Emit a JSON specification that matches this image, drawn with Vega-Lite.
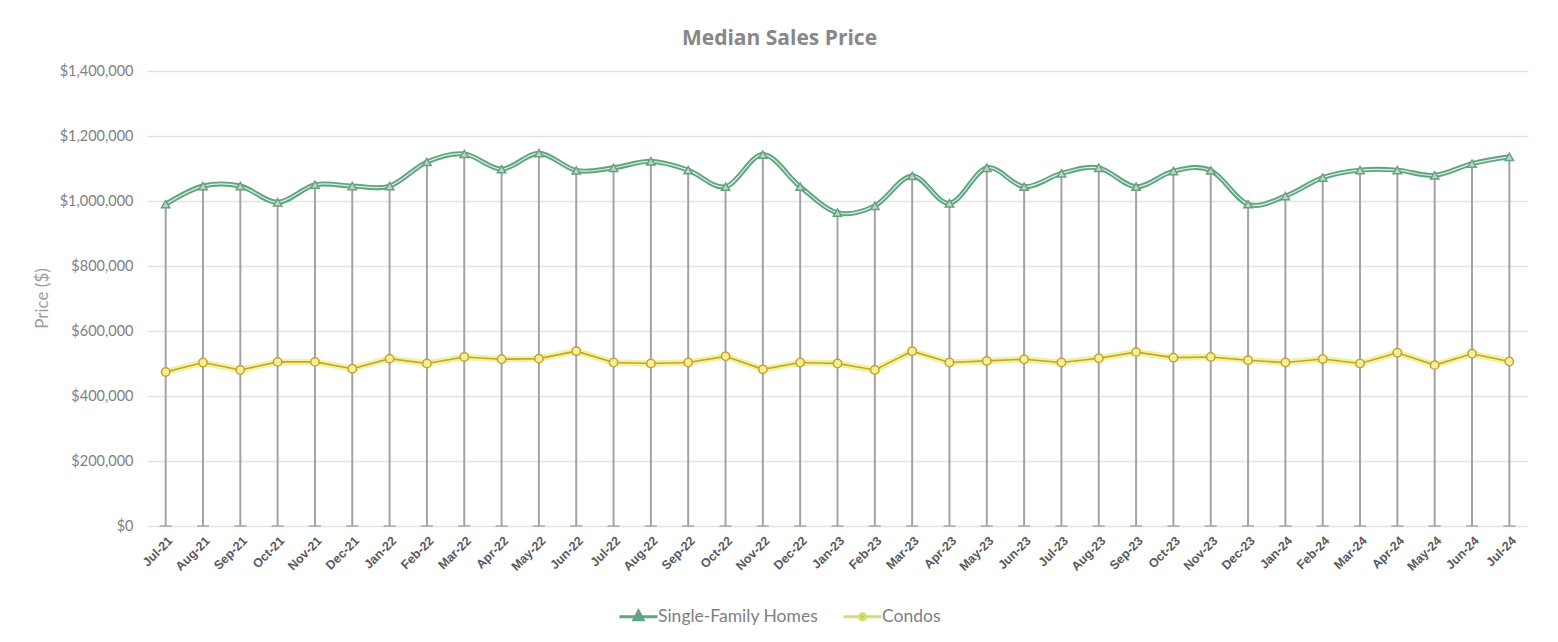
{
  "$schema": "https://vega.github.io/schema/vega-lite/v6.json",
  "width": 1381,
  "height": 455,
  "autosize": {"type": "none"},
  "padding": {"left": 147, "top": 71, "right": 30, "bottom": 116},
  "background": "white",
  "title": {
    "text": "Median Sales Price",
    "font": "Open Sans",
    "fontSize": 21,
    "fontWeight": "bold",
    "color": "#878787",
    "anchor": "middle",
    "dx": -58,
    "offset": 14
  },
  "config": {
    "view": {"stroke": null},
    "axis": {"domain": false, "ticks": false},
    "legend": {
      "title": null,
      "orient": "none",
      "direction": "horizontal",
      "legendX": 480,
      "legendY": 534,
      "symbolSize": 400,
      "symbolStrokeWidth": 3,
      "symbolOpacity": 1,
      "labelFont": "Lato",
      "labelFontSize": 17.5,
      "labelColor": "#7f7f7f",
      "labelOffset": 8,
      "labelLimit": 400,
      "columnPadding": 18
    }
  },
  "resolve": {"scale": {"shape": "independent", "fill": "independent", "stroke": "independent"}},
  "data": {
    "values": [
      {"month": "Jul-21", "Single-Family Homes": 990000, "Condos": 474000},
      {"month": "Aug-21", "Single-Family Homes": 1046000, "Condos": 503000},
      {"month": "Sep-21", "Single-Family Homes": 1046000, "Condos": 480000},
      {"month": "Oct-21", "Single-Family Homes": 996000, "Condos": 505000},
      {"month": "Nov-21", "Single-Family Homes": 1050000, "Condos": 505000},
      {"month": "Dec-21", "Single-Family Homes": 1046000, "Condos": 484000},
      {"month": "Jan-22", "Single-Family Homes": 1046000, "Condos": 515000},
      {"month": "Feb-22", "Single-Family Homes": 1120000, "Condos": 500000},
      {"month": "Mar-22", "Single-Family Homes": 1145000, "Condos": 520000},
      {"month": "Apr-22", "Single-Family Homes": 1098000, "Condos": 513000},
      {"month": "May-22", "Single-Family Homes": 1147000, "Condos": 515000},
      {"month": "Jun-22", "Single-Family Homes": 1094000, "Condos": 538000},
      {"month": "Jul-22", "Single-Family Homes": 1102000, "Condos": 503000},
      {"month": "Aug-22", "Single-Family Homes": 1122000, "Condos": 500000},
      {"month": "Sep-22", "Single-Family Homes": 1095000, "Condos": 503000},
      {"month": "Oct-22", "Single-Family Homes": 1044000, "Condos": 522000},
      {"month": "Nov-22", "Single-Family Homes": 1143000, "Condos": 482000},
      {"month": "Dec-22", "Single-Family Homes": 1044000, "Condos": 503000},
      {"month": "Jan-23", "Single-Family Homes": 964000, "Condos": 500000},
      {"month": "Feb-23", "Single-Family Homes": 985000, "Condos": 480000},
      {"month": "Mar-23", "Single-Family Homes": 1077000, "Condos": 538000},
      {"month": "Apr-23", "Single-Family Homes": 993000, "Condos": 503000},
      {"month": "May-23", "Single-Family Homes": 1102000, "Condos": 508000},
      {"month": "Jun-23", "Single-Family Homes": 1044000, "Condos": 513000},
      {"month": "Jul-23", "Single-Family Homes": 1085000, "Condos": 503000},
      {"month": "Aug-23", "Single-Family Homes": 1102000, "Condos": 516000},
      {"month": "Sep-23", "Single-Family Homes": 1044000, "Condos": 535000},
      {"month": "Oct-23", "Single-Family Homes": 1092000, "Condos": 518000},
      {"month": "Nov-23", "Single-Family Homes": 1094000, "Condos": 520000},
      {"month": "Dec-23", "Single-Family Homes": 990000, "Condos": 510000},
      {"month": "Jan-24", "Single-Family Homes": 1015000, "Condos": 503000},
      {"month": "Feb-24", "Single-Family Homes": 1072000, "Condos": 514000},
      {"month": "Mar-24", "Single-Family Homes": 1095000, "Condos": 500000},
      {"month": "Apr-24", "Single-Family Homes": 1095000, "Condos": 533000},
      {"month": "May-24", "Single-Family Homes": 1079000, "Condos": 495000},
      {"month": "Jun-24", "Single-Family Homes": 1115000, "Condos": 530000},
      {"month": "Jul-24", "Single-Family Homes": 1136000, "Condos": 506000}
    ]
  },
  "encoding": {
    "x": {
      "field": "month",
      "type": "ordinal",
      "sort": null,
      "scale": {"type": "point", "padding": 0.5},
      "axis": {
        "title": null,
        "labelAngle": -45,
        "labelFont": "Liberation Sans",
        "labelFontSize": 12.5,
        "labelFontWeight": "bold",
        "labelColor": "#5a5a5a",
        "labelPadding": 8,
        "grid": false
      }
    }
  },
  "layer": [
    {
      "mark": {"type": "rule", "color": "#a3a3a3", "strokeWidth": 2},
      "encoding": {
        "y": {
          "field": "Single-Family Homes",
          "type": "quantitative",
          "scale": {"domain": [0, 1400000]},
          "axis": {
            "values": [0, 200000, 400000, 600000, 800000, 1000000, 1200000, 1400000],
            "format": "$,.0f",
            "labelFont": "Lato",
            "labelFontSize": 14.5,
            "labelColor": "#808080",
            "labelPadding": 14,
            "gridColor": "#e3e3e3",
            "gridWidth": 1.5,
            "title": "Price ($)",
            "titleFont": "Lato",
            "titleFontSize": 17,
            "titleFontWeight": "normal",
            "titleColor": "#a0a0a0",
            "titleX": -105,
            "titleY": 227,
            "titleAngle": -90,
            "titleAlign": "center",
            "titleBaseline": "middle"
          }
        },
        "y2": {"datum": 0}
      }
    },
    {
      "mark": {"type": "tick", "color": "#a3a3a3", "thickness": 2, "size": 12},
      "encoding": {"y": {"datum": 0, "type": "quantitative"}}
    },
    {
      "transform": [{"fold": ["Single-Family Homes", "Condos"], "as": ["series", "price"]}, {"filter": "datum.series === 'Condos'"}],
      "mark": {"type": "line", "color": "#ecf29a", "strokeWidth": 6.5, "opacity": 0.9},
      "encoding": {"y": {"field": "price", "type": "quantitative"}}
    },
    {
      "transform": [{"fold": ["Single-Family Homes", "Condos"], "as": ["series", "price"]}, {"filter": "datum.series === 'Condos'"}],
      "mark": {"type": "line", "color": "#c9a227", "strokeWidth": 1.6},
      "encoding": {"y": {"field": "price", "type": "quantitative"}}
    },
    {
      "transform": [{"fold": ["Single-Family Homes", "Condos"], "as": ["series", "price"]}, {"filter": "datum.series === 'Single-Family Homes'"}],
      "mark": {"type": "line", "color": "#5fa57f", "strokeWidth": 5, "interpolate": "cardinal"},
      "encoding": {"y": {"field": "price", "type": "quantitative"}}
    },
    {
      "transform": [{"fold": ["Single-Family Homes", "Condos"], "as": ["series", "price"]}, {"filter": "datum.series === 'Single-Family Homes'"}],
      "mark": {"type": "line", "color": "#dcefe3", "strokeWidth": 1.2, "interpolate": "cardinal"},
      "encoding": {"y": {"field": "price", "type": "quantitative"}}
    },
    {
      "transform": [{"fold": ["Single-Family Homes", "Condos"], "as": ["series", "price"]}],
      "mark": {"type": "point", "filled": false, "size": 70, "strokeWidth": 1.5, "opacity": 1},
      "encoding": {
        "y": {"field": "price", "type": "quantitative"},
        "shape": {
          "field": "series",
          "type": "nominal",
          "sort": null,
          "scale": {"domain": ["Single-Family Homes", "Condos"], "range": ["triangle-up", "circle"]},
          "legend": null
        },
        "stroke": {
          "field": "series",
          "type": "nominal",
          "sort": null,
          "scale": {"domain": ["Single-Family Homes", "Condos"], "range": ["#5fa57f", "#c9a227"]},
          "legend": null
        },
        "fill": {
          "field": "series",
          "type": "nominal",
          "sort": null,
          "scale": {"domain": ["Single-Family Homes", "Condos"], "range": ["#cccccc", "#f2ef9e"]},
          "legend": null
        }
      }
    },
    {
      "transform": [{"fold": ["Single-Family Homes", "Condos"], "as": ["series", "price"]}],
      "mark": {"type": "point", "filled": false, "size": 70, "opacity": 0},
      "encoding": {
        "y": {"field": "price", "type": "quantitative"},
        "shape": {
          "field": "series",
          "type": "nominal",
          "sort": null,
          "scale": {"domain": ["Single-Family Homes", "Condos"], "range": ["M-1.9,0H1.9M0,-0.55L0.45,0.3L-0.45,0.3Z", "M-1.9,0H-0.3M0.3,0H1.9M0.3,0A0.3,0.3 0 1 1 -0.3,0A0.3,0.3 0 1 1 0.3,0Z"]}
        },
        "stroke": {
          "field": "series",
          "type": "nominal",
          "sort": null,
          "scale": {"domain": ["Single-Family Homes", "Condos"], "range": ["#5fa57f", "#d3df6a"]}
        },
        "fill": {
          "field": "series",
          "type": "nominal",
          "sort": null,
          "scale": {"domain": ["Single-Family Homes", "Condos"], "range": ["#5fa57f", "#c5cf4a"]}
        }
      }
    }
  ]
}
